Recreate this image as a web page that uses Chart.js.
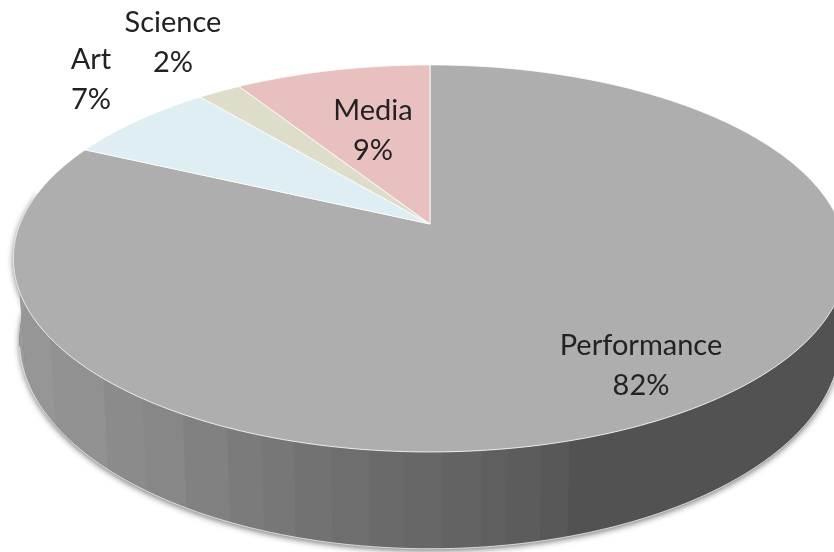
<!DOCTYPE html>
<html>
<head>
<meta charset="utf-8">
<title>Pie</title>
<script src="https://cdn.jsdelivr.net/npm/chart.js@4/dist/chart.umd.min.js"></script>
<style>
html, body { margin: 0; padding: 0; background: #fff; overflow: hidden; }
canvas { display: block; }
</style>
</head>
<body>
<canvas id="pie3d" width="834" height="552"></canvas>
<script>
var categories = ['Performance', 'Art', 'Science', 'Media'];
var shares = [82, 7, 2, 9];
var sliceColors = ['#aeaeae', '#deeef3', '#deddc9', '#e8c0bf'];

// label centres for the first text line, in canvas pixels
var labelX = [641, 91, 173, 373];
var labelY = [346, 60, 23, 111];
var lineGap = 39.5;

// side wall facet edges and grey by angle (degrees clockwise from 12 o'clock)
var facetEdges = [88, 163.6, 167, 171, 174, 178.6, 183, 187, 191.5, 196, 200, 204.5, 210.7, 217, 224, 236.6, 250, 280];
var wallAngles = [160, 173, 183.5, 194, 199, 215, 233, 255, 285];
var wallGreys = [0x52, 0x60, 0x69, 0x72, 0x78, 0x88, 0x92, 0x9a, 0x9e];

// top disc and bottom rim as tilted circles
var tilt = 0.178;
var topRim = { cx: 430, cy: 224, a: 410, b: 187.4 };
var lowRim = { cx: 430, cy: 303, a: 404, b: 202 };

function project(rim, theta) {
    var u = Math.sin(theta), v = -Math.cos(theta);
    var w = 1 - tilt * v;
    return { x: rim.cx + rim.a * u / w, y: rim.cy + rim.b * v / w };
}

function rad(deg) { return deg * Math.PI / 180; }

function traceRim(ctx, rim, from, to, first) {
    var steps = Math.max(2, Math.ceil(Math.abs(to - from) / 0.01));
    for (var i = 0; i <= steps; i++) {
        var p = project(rim, from + (to - from) * i / steps);
        if (i === 0 && first) ctx.moveTo(p.x, p.y);
        else ctx.lineTo(p.x, p.y);
    }
}

function wallGrey(deg) {
    if (deg <= wallAngles[0]) return wallGreys[0];
    for (var i = 1; i < wallAngles.length; i++) {
        if (deg <= wallAngles[i]) {
            var t = (deg - wallAngles[i - 1]) / (wallAngles[i] - wallAngles[i - 1]);
            return Math.round(wallGreys[i - 1] + t * (wallGreys[i] - wallGreys[i - 1]));
        }
    }
    return wallGreys[wallGreys.length - 1];
}

function drawWall(ctx) {
    var from = facetEdges[0], to = facetEdges[facetEdges.length - 1];

    // soft shadow under the whole wall first
    ctx.save();
    ctx.shadowColor = 'rgba(0,0,0,0.55)';
    ctx.shadowBlur = 6;
    ctx.shadowOffsetY = 2;
    ctx.fillStyle = '#666';
    ctx.beginPath();
    traceRim(ctx, topRim, rad(from), rad(to), true);
    traceRim(ctx, lowRim, rad(to), rad(from), false);
    ctx.closePath();
    ctx.fill();
    ctx.restore();

    // flat facets, painted right to left with a small overlap
    for (var i = 0; i < facetEdges.length - 1; i++) {
        var a = facetEdges[i], b = facetEdges[i + 1];
        var g = wallGrey((a + b) / 2);
        ctx.fillStyle = 'rgb(' + g + ',' + g + ',' + g + ')';
        ctx.beginPath();
        traceRim(ctx, topRim, rad(a), rad(b + 0.15), true);
        traceRim(ctx, lowRim, rad(b + 0.15), rad(a), false);
        ctx.closePath();
        ctx.fill();
    }

    // light hairline along the bottom rim
    ctx.strokeStyle = 'rgba(255,255,255,0.75)';
    ctx.lineWidth = 1;
    ctx.beginPath();
    traceRim(ctx, lowRim, rad(100), rad(258), true);
    ctx.stroke();
}

var pie3d = {
    id: 'pie3d',
    beforeDatasetsDraw: function(chart) {
        var ctx = chart.ctx;
        var arcs = chart.getDatasetMeta(0).data;

        ctx.save();
        drawWall(ctx);

        arcs.forEach(function(arc) {
            // library angles start at 3 o'clock, the rims at 12 o'clock
            var from = arc.startAngle + Math.PI / 2;
            var to = arc.endAngle + Math.PI / 2;
            ctx.beginPath();
            ctx.moveTo(topRim.cx, topRim.cy);
            traceRim(ctx, topRim, from, to, false);
            ctx.closePath();
            ctx.fillStyle = arc.options.backgroundColor;
            ctx.fill();
            ctx.strokeStyle = 'rgba(255,255,255,0.8)';
            ctx.lineWidth = 1;
            ctx.stroke();
        });
        ctx.restore();
        return false;
    },
    afterDraw: function(chart) {
        var ctx = chart.ctx;
        ctx.save();
        ctx.font = '29px Lato';
        ctx.fillStyle = '#222';
        ctx.textAlign = 'center';
        ctx.textBaseline = 'middle';
        categories.forEach(function(name, i) {
            ctx.fillText(name, labelX[i], labelY[i]);
            ctx.fillText(shares[i] + '%', labelX[i], labelY[i] + lineGap);
        });
        ctx.restore();
    }
};

var chart = new Chart(document.getElementById('pie3d').getContext('2d'), {
    type: 'pie',
    data: {
        labels: categories,
        datasets: [{
            data: shares,
            backgroundColor: sliceColors,
            borderWidth: 0
        }]
    },
    options: {
        responsive: false,
        animation: false,
        plugins: {
            legend: { display: false },
            tooltip: { enabled: false }
        }
    },
    plugins: [pie3d]
});
</script>
</body>
</html>
